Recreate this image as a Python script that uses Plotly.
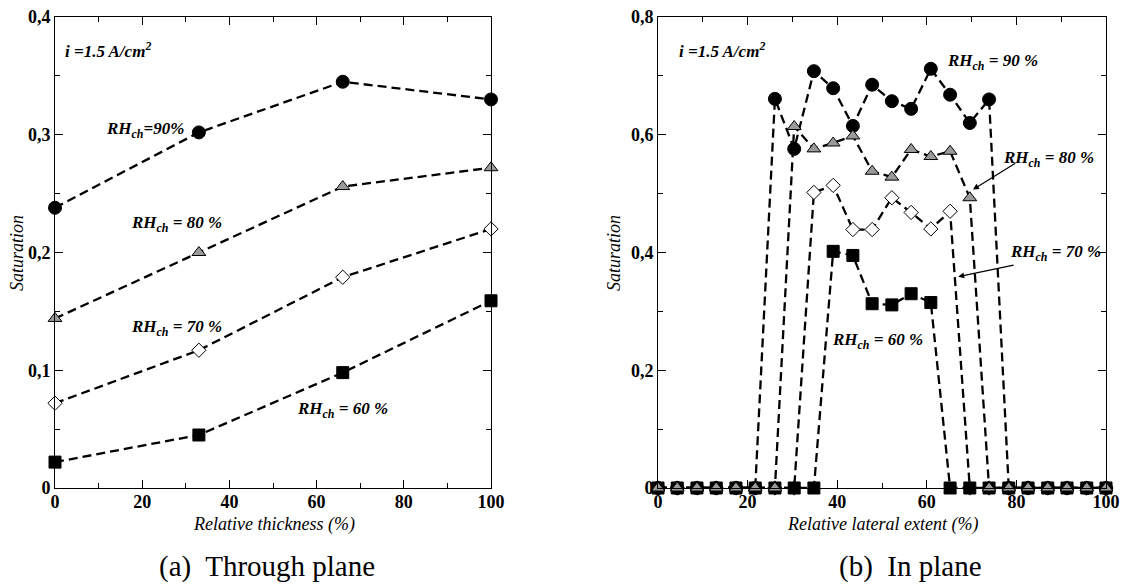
import plotly.graph_objects as go

# ---------------- data ----------------
x_thick = [0, 33, 66, 100]
sat_tp_90 = [0.238, 0.302, 0.345, 0.330]
sat_tp_80 = [0.144, 0.200, 0.256, 0.272]
sat_tp_70 = [0.072, 0.117, 0.179, 0.220]
sat_tp_60 = [0.022, 0.045, 0.098, 0.159]

x_lat = [0, 4.3, 8.7, 13, 17.4, 21.7, 26.1, 30.4, 34.8, 39.1, 43.5, 47.8,
         52.2, 56.5, 60.9, 65.2, 69.6, 73.9, 78.3, 82.6, 87, 91.3, 95.7, 100]
sat_ip_90 = [0, 0, 0, 0, 0, 0,
             0.661, 0.576, 0.708, 0.679, 0.615, 0.685, 0.657, 0.644, 0.712, 0.668, 0.620, 0.660,
             0, 0, 0, 0, 0, 0]
sat_ip_80 = [0, 0, 0, 0, 0, 0, 0,
             0.614, 0.576, 0.586, 0.598, 0.538, 0.528, 0.575, 0.563, 0.572, 0.493,
             0, 0, 0, 0, 0, 0, 0]
sat_ip_70 = [0, 0, 0, 0, 0, 0, 0, 0,
             0.502, 0.514, 0.439, 0.439, 0.493, 0.468, 0.440, 0.470,
             0, 0, 0, 0, 0, 0, 0, 0]
sat_ip_60 = [0, 0, 0, 0, 0, 0, 0, 0, 0,
             0.402, 0.395, 0.313, 0.311, 0.330, 0.315,
             0, 0, 0, 0, 0, 0, 0, 0, 0]

x_ticks = [0, 20, 40, 60, 80, 100]
y_ticks_left = [0, 0.1, 0.2, 0.3, 0.4]
y_labels_left = ["0", "0,1", "0,2", "0,3", "0,4"]
y_ticks_right = [0, 0.2, 0.4, 0.6, 0.8]
y_labels_right = ["0", "0,2", "0,4", "0,6", "0,8"]

# ---------------- styling ----------------
W, H = 1145, 585
SERIF = "Liberation Serif"

def px(x):
    return x / W

def py(y):
    return 1 - y / H

styles = {
    "90": dict(symbol="circle", size=13, color="black", line=dict(color="black", width=1)),
    "80": dict(symbol="triangle-up", size=12, color="#9a9a9a", line=dict(color="black", width=1)),
    "70": dict(symbol="diamond", size=11, color="white", line=dict(color="black", width=1)),
    "60": dict(symbol="square", size=12, color="black", line=dict(color="black", width=1)),
}

fig = go.Figure()

def add(x, y, key, xa, ya):
    fig.add_trace(go.Scatter(
        x=x, y=y, mode="lines+markers", xaxis=xa, yaxis=ya,
        line=dict(color="black", width=2.3, dash="9px,5px"),
        marker=styles[key], cliponaxis=False, showlegend=False))

for key, y in [("90", sat_tp_90), ("80", sat_tp_80), ("70", sat_tp_70), ("60", sat_tp_60)]:
    add(x_thick, y, key, "x", "y")

for key, y in [("70", sat_ip_70), ("90", sat_ip_90), ("60", sat_ip_60), ("80", sat_ip_80)]:
    add(x_lat, y, key, "x2", "y2")

axis_common = dict(
    showline=True, linecolor="black", linewidth=1, mirror="ticks",
    ticks="inside", ticklen=8, tickcolor="black", tickwidth=1,
    showgrid=False, zeroline=False, automargin=False,
    tickfont=dict(family=SERIF, size=18, color="black", weight="bold"),
)

yb, yt = py(488), py(17)
fig.update_layout(
    width=W, height=H, margin=dict(l=0, r=0, t=0, b=0),
    paper_bgcolor="white", plot_bgcolor="white",
    xaxis=dict(domain=[px(55), px(491)], range=[0, 100], tickvals=x_ticks,
               minor=dict(ticks="inside", ticklen=5, dtick=10, tick0=0, tickcolor="black"),
               anchor="y", ticklabelstandoff=-3, **axis_common),
    yaxis=dict(domain=[yb, yt], range=[0, 0.4], tickvals=y_ticks_left, ticktext=y_labels_left,
               minor=dict(ticks="inside", ticklen=5, dtick=0.05, tick0=0, tickcolor="black"),
               anchor="x", **axis_common),
    xaxis2=dict(domain=[px(658), px(1106)], range=[0, 100], tickvals=x_ticks,
                minor=dict(ticks="inside", ticklen=5, dtick=10, tick0=0, tickcolor="black"),
                anchor="y2", ticklabelstandoff=-3, **axis_common),
    yaxis2=dict(domain=[yb, yt], range=[0, 0.8], tickvals=y_ticks_right, ticktext=y_labels_right,
                minor=dict(ticks="inside", ticklen=5, dtick=0.1, tick0=0, tickcolor="black"),
                anchor="x2", **axis_common),
)

ann_font = dict(family=SERIF, size=17, color="black", weight="bold")
lab_font = dict(family=SERIF, size=18, color="black")

def note(text, x, y, font=ann_font, **kw):
    fig.add_annotation(text=text, x=px(x), y=py(y), xref="paper", yref="paper",
                       xanchor="center", yanchor="middle",
                       showarrow=False, font=font, **kw)

# left panel labels
note("<i>i =1.5 A/cm<sup>2</sup></i>", 108, 50)
note("<i>RH<sub>ch</sub>=90%</i>", 145, 130)
note("<i>RH<sub>ch</sub> = 80 %</i>", 176, 224)
note("<i>RH<sub>ch</sub> = 70 %</i>", 176, 328)
note("<i>RH<sub>ch</sub> = 60 %</i>", 342, 410)

# right panel labels
note("<i>i =1.5 A/cm<sup>2</sup></i>", 722, 50)
note("<i>RH<sub>ch</sub> = 90 %</i>", 992, 62)
note("<i>RH<sub>ch</sub> = 80 %</i>", 1048, 159)
note("<i>RH<sub>ch</sub> = 70 %</i>", 1055, 253)
note("<i>RH<sub>ch</sub> = 60 %</i>", 877, 341)

# arrows
for (hx, hy, tx, ty) in [(70.3, 0.507, 80.1, 0.553), (67.0, 0.359, 79.7, 0.379)]:
    fig.add_annotation(x=hx, y=hy, ax=tx, ay=ty, xref="x2", yref="y2", axref="x2", ayref="y2",
                       showarrow=True, arrowhead=2, arrowsize=1, arrowwidth=1.2,
                       arrowcolor="black", text="")

# axis titles
note("<i>Relative thickness (%)</i>", 274, 524, font=lab_font)
note("<i>Relative lateral extent (%)</i>", 882, 524, font=lab_font)
note("<i>Saturation</i>", 17, 253, font=lab_font, textangle=-90)
note("<i>Saturation</i>", 614, 253, font=lab_font, textangle=-90)

# captions
cap_font = dict(family=SERIF, size=29, color="black")
note("(a)  Through plane", 267, 566, font=cap_font)
note("(b)  In plane", 910, 566, font=cap_font)

fig.write_html("out.html", config={"displayModeBar": False},
               post_script="document.body.style.margin='0';")
